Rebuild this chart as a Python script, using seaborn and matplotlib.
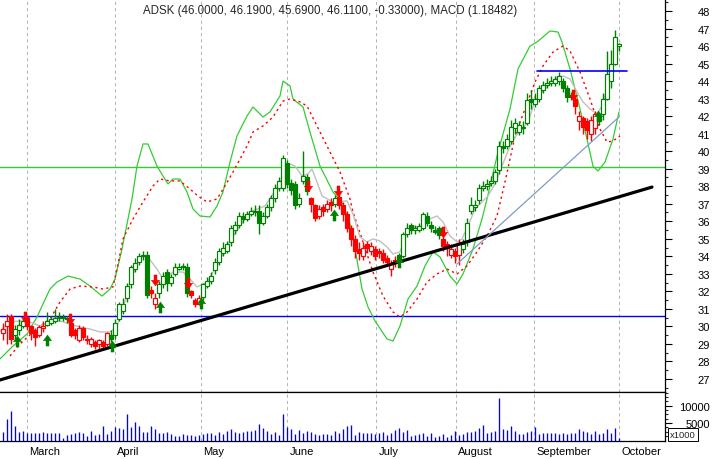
import numpy as np
import matplotlib
matplotlib.use("Agg")
import matplotlib.pyplot as plt
import matplotlib.transforms as mtransforms
from matplotlib.path import Path
import seaborn as sns

# ---- daily candles (trading day index 0..154) ----
opens = [29.6, 30.0, 30.6, 29.5, 29.8, 30.0, 30.5, 30.0, 29.8, 29.5,
         29.9, 30.1, 30.2, 30.3, 30.5, 30.55, 30.45, 30.2, 29.8, 29.2,
         29.9, 29.3, 29.0, 29.1, 29.0, 29.1, 29.0, 29.5, 29.5, 30.4,
         30.9, 31.6, 32.4, 33.3, 33.7, 34.0, 34.1, 32.1, 31.3, 31.9,
         32.4, 33.1, 32.5, 33.0, 33.3, 33.4, 33.4, 32.0, 31.5, 31.3,
         31.7, 32.3, 32.6, 33.2, 33.7, 34.2, 34.3, 34.8, 35.5, 35.8,
         36.3, 36.1, 36.4, 36.6, 36.6, 35.9, 36.3, 36.8, 37.3, 37.9,
         37.9, 39.3, 38.2, 38.1, 37.0, 38.3, 38.5, 37.3, 36.9, 36.3,
         36.8, 36.7, 37.1, 37.0, 37.4, 36.9, 36.4, 35.6, 35.0, 34.4,
         34.0, 34.7, 34.3, 34.4, 34.3, 34.2, 33.9, 33.3, 33.8, 34.1,
         34.0, 35.3, 35.8, 35.5, 35.5, 35.6, 36.3, 35.8, 35.5, 35.6,
         35.0, 34.7, 34.1, 34.3, 34.1, 34.4, 34.8, 36.6, 36.8, 37.2,
         37.9, 38.0, 38.2, 38.3, 38.9, 40.3, 40.3, 40.6, 41.3, 41.1,
         41.3, 41.6, 43.0, 42.7, 43.0, 43.5, 43.8, 43.9, 43.9, 44.0,
         44.0, 43.6, 43.2, 43.0, 41.7, 41.9, 41.7, 41.0, 41.3, 42.0,
         42.1, 43.0, 44.0, 45.0, 46.00]
closes = [29.85, 30.3, 29.3, 29.85, 30.1, 30.3, 30.0, 29.6, 29.4, 29.95,
          30.0, 30.3, 30.4, 30.5, 30.55, 30.5, 30.4, 29.5, 29.5, 29.9,
          29.4, 29.2, 29.3, 28.9, 29.2, 28.9, 29.6, 29.3, 30.2, 31.3,
          31.3, 32.3, 33.4, 33.6, 34.0, 34.1, 31.8, 31.9, 31.6, 32.4,
          32.9, 32.5, 32.8, 33.4, 33.4, 33.4, 31.9, 31.8, 31.3, 31.6,
          32.4, 32.6, 32.9, 33.7, 34.3, 34.5, 34.7, 35.6, 35.8, 36.3,
          36.1, 36.4, 36.6, 36.5, 35.9, 36.3, 36.8, 37.3, 37.9, 38.3,
          39.6, 38.1, 37.8, 36.9, 37.3, 38.6, 37.7, 37.0, 36.2, 36.7,
          36.6, 37.0, 36.9, 37.3, 36.9, 36.4, 35.6, 35.0, 34.3, 34.2,
          34.5, 34.5, 34.6, 34.0, 34.2, 33.8, 33.7, 33.6, 33.7, 33.8,
          35.3, 35.6, 35.5, 35.6, 35.7, 36.4, 35.9, 35.6, 35.4, 35.2,
          34.6, 34.5, 34.4, 34.0, 34.7, 34.7, 35.9, 36.9, 36.9, 37.9,
          38.0, 38.1, 38.3, 38.8, 40.3, 40.2, 40.7, 41.4, 41.6, 41.5,
          41.4, 42.9, 42.8, 43.0, 43.6, 43.8, 43.9, 44.0, 44.1, 44.3,
          43.6, 43.1, 43.1, 42.6, 42.0, 41.4, 41.2, 41.8, 42.1, 41.7,
          43.0, 44.4, 45.0, 46.5, 46.11]
highs = [30.2, 30.7, 30.7, 30.1, 30.4, 30.5, 30.6, 30.1, 29.9, 30.1,
         30.3, 30.8, 30.6, 31.0, 30.8, 30.7, 30.6, 30.4, 29.9, 30.1,
         30.0, 29.5, 29.4, 29.2, 29.3, 29.2, 29.7, 29.8, 30.4, 31.4,
         31.6, 32.5, 33.5, 33.9, 34.2, 34.3, 34.3, 32.3, 31.9, 32.6,
         33.1, 33.3, 33.0, 33.6, 33.6, 33.6, 33.6, 32.1, 31.6, 31.8,
         32.5, 32.8, 33.1, 33.9, 34.5, 34.8, 34.9, 35.8, 36.0, 36.5,
         36.5, 36.6, 36.8, 36.9, 36.9, 36.5, 37.0, 37.5, 38.1, 38.5,
         39.8, 39.5, 38.4, 38.3, 37.6, 40.0, 38.7, 37.4, 37.0, 36.9,
         37.0, 37.2, 37.3, 37.5, 37.6, 37.1, 36.6, 35.8, 35.2, 34.8,
         34.8, 34.9, 34.8, 34.6, 34.5, 34.4, 34.1, 33.8, 34.0, 34.2,
         35.4, 35.9, 35.9, 35.8, 35.9, 36.5, 36.5, 36.0, 35.7, 35.7,
         35.2, 34.9, 34.7, 34.5, 35.0, 35.0, 36.2, 37.4, 37.2, 38.1,
         38.3, 38.4, 38.6, 39.0, 40.6, 40.6, 41.0, 41.8, 41.9, 41.7,
         41.7, 43.3, 43.5, 43.3, 43.8, 44.0, 44.2, 44.3, 44.3, 44.5,
         44.2, 43.8, 43.4, 43.2, 42.3, 42.0, 41.9, 42.0, 42.3, 42.2,
         43.3, 45.7, 45.8, 46.9, 46.19]
lows = [29.2, 29.0, 29.0, 29.3, 29.5, 29.9, 29.8, 29.2, 28.9, 29.4,
        29.7, 30.0, 30.1, 30.2, 30.3, 30.3, 30.2, 29.4, 29.3, 29.1,
        29.2, 29.0, 28.8, 28.7, 28.6, 28.7, 28.9, 29.1, 29.3, 30.3,
        30.7, 31.4, 32.2, 33.1, 33.5, 33.8, 31.6, 31.6, 31.0, 31.6,
        32.2, 32.0, 32.3, 32.9, 33.2, 33.2, 31.7, 31.6, 31.1, 31.2,
        31.5, 32.2, 32.4, 33.0, 33.5, 34.0, 34.2, 34.6, 35.3, 35.6,
        35.9, 36.0, 36.3, 36.3, 35.3, 35.8, 36.2, 36.6, 37.1, 37.7,
        37.7, 37.9, 37.5, 36.7, 36.8, 38.1, 37.5, 36.5, 36.0, 36.1,
        36.3, 36.5, 36.6, 36.8, 36.7, 36.0, 35.4, 34.6, 33.9, 33.8,
        33.8, 34.2, 34.1, 33.8, 33.9, 33.6, 33.5, 32.9, 33.4, 33.6,
        33.9, 35.1, 35.3, 35.3, 35.4, 35.5, 35.7, 35.4, 35.3, 35.0,
        34.3, 34.0, 33.9, 33.6, 33.5, 34.2, 34.6, 36.4, 36.6, 37.0,
        37.7, 37.8, 38.0, 38.1, 38.7, 39.9, 40.1, 40.4, 41.0, 40.9,
        41.0, 41.5, 42.4, 42.5, 42.8, 43.3, 43.6, 43.7, 43.7, 43.8,
        43.4, 42.8, 42.9, 42.1, 41.2, 41.0, 40.7, 40.6, 41.0, 41.5,
        41.8, 42.9, 43.6, 44.9, 45.69]
# trend state of each candle: g = long, r = short
trend = ("rrrgggrrrr" "rggggggrrr" "rrrrrrrggg" "gggggggrrg" "gggggggrrr"
         "gggggggggg" "gggggggggg" "gggggggrrr" "rrrgrrrrrr" "rrrrrrrrrg"
         "gggggggggg" "rrrrrggggg" "gggggggggg" "gggggggggg" "gggrrrrrrg"
         "ggggg")
# volume in thousands of shares
volume_k = [2.5, 6.2, 8.6, 4.3, 2.5, 2.7, 2.3, 2.3, 2.3, 2.1,
            2.5, 2.1, 2.1, 2.1, 2.1, 0.8, 1.5, 1.8, 2.1, 2.5,
            2.3, 1.4, 2.6, 1.6, 2.0, 4.3, 1.8, 2.7, 3.8, 3.6,
            3.4, 7.5, 3.9, 5.2, 4.3, 2.5, 2.5, 4.1, 3.4, 2.3,
            2.3, 2.5, 1.8, 1.4, 1.4, 1.8, 1.5, 1.5, 1.4, 1.5,
            1.8, 2.1, 2.1, 1.5, 2.5, 1.8, 2.7, 3.4, 2.5, 2.3,
            2.5, 2.7, 2.7, 3.0, 4.8, 3.6, 2.7, 1.8, 2.5, 1.5,
            7.5, 3.9, 3.4, 1.8, 3.1, 2.3, 2.7, 2.5, 1.8, 1.5,
            1.8, 1.8, 1.5, 2.7, 2.3, 3.2, 4.1, 4.5, 1.6, 2.5,
            2.3, 2.1, 2.1, 1.8, 2.3, 2.5, 1.5, 2.3, 3.1, 3.5,
            2.5, 3.1, 1.2, 1.5, 2.0, 2.1, 1.4, 2.1, 1.1, 1.4,
            2.0, 1.1, 1.5, 2.7, 1.5, 1.8, 2.5, 2.5, 2.7, 3.5,
            4.5, 2.3, 2.5, 2.7, 12.3, 3.2, 3.0, 4.1, 2.7, 1.8,
            1.8, 2.5, 2.7, 3.9, 1.8, 2.3, 2.1, 2.1, 2.1, 2.0,
            2.1, 1.8, 2.1, 2.3, 3.2, 2.7, 2.5, 2.0, 2.8, 2.0,
            2.1, 3.3, 2.3, 3.6, 0.6]

# ---- indicator lines (day, price) ----
ma_day = [-0.75, 1.75, 4.25, 6.75, 9.25, 11.75, 14.25, 16.75, 19.25, 21.75, 24.25, 26.75,
          28.5, 30, 31.75, 34.25, 36, 38.5, 40, 42.5, 45, 46.75, 48.5, 51, 53.5, 56,
          59.25, 61.75, 65.5, 67.5, 69.75, 71.75, 73, 74.75, 76.25, 77.25, 78.5, 79.75,
          82.5, 86, 87.5, 89.25, 91, 92.5, 94.25, 96, 97.5, 99.25, 101, 102.5, 104.25,
          106.75, 108.5, 110, 111.75, 113.5, 114.75, 116.25, 118, 119.75, 121.25, 123,
          124.75, 126.25, 128, 129.75, 131.25, 133, 135, 136.75, 138.5, 140, 141.75,
          143.5, 145, 146.75, 148.5, 149.75, 151, 152.5, 153.75]
ma_price = [29.74, 30.25, 30.31, 30.25, 30.02, 30.25, 30.31, 30.13, 29.96, 29.85, 29.68, 29.68,
            30.02, 31.0, 32.53, 33.96, 34.02, 33.27, 32.70, 33.10, 33.10, 32.70, 32.25, 32.53,
            33.45, 34.59, 35.73, 36.53, 36.87, 37.56, 38.41, 39.27, 39.15, 38.58, 38.70, 38.98,
            38.24, 37.44, 37.10, 37.16, 36.41, 35.10, 34.82, 34.99, 34.87, 34.53, 34.13, 34.25,
            35.44, 35.67, 35.67, 36.13, 36.30, 35.96, 35.16, 34.82, 34.99, 35.73, 36.70, 37.10,
            37.44, 38.13, 39.15, 40.01, 40.81, 41.26, 41.66, 42.86, 43.43, 43.83, 44.23, 44.29,
            44.12, 43.38, 42.81, 42.41, 42.12, 42.58, 43.55, 44.86, 45.83]

sig_day = [1.75, 4.25, 7.5, 10, 11.75, 14.25, 16.75, 19.25, 22.5, 25, 27.5, 28.75, 30, 32.5,
           35, 37.5, 39.25, 41.75, 44.25, 46.75, 48.75, 51, 53.5, 55.5, 57.5, 61, 62.5, 65,
           67.5, 70, 71.75, 74.25, 76, 78.5, 81.75, 84.25, 86.75, 87.5, 90, 92.5, 95, 97.5,
           99.25, 101, 103.5, 106, 108.5, 111, 113.5, 116, 118.5, 121, 123.5, 125.5, 128,
           130.5, 133, 135, 137.5, 140, 141.75, 144.25, 146.75, 149.25, 151, 152.5, 154.25]
sig_price = [28.31, 28.99, 29.68, 30.13, 30.42, 31.39, 32.13, 32.30, 32.25, 32.13, 32.25, 33.56,
             34.99, 36.13, 37.10, 38.01, 38.41, 38.30, 38.30, 37.84, 37.44, 37.10, 37.27, 38.01,
             38.81, 40.29, 41.09, 41.44, 41.95, 42.86, 42.98, 42.81, 42.58, 41.44, 39.95, 38.81,
             37.27, 36.53, 34.82, 33.10, 31.73, 30.82, 30.53, 30.82, 31.56, 32.53, 32.99, 33.27,
             32.99, 33.45, 34.25, 35.16, 36.30, 38.24, 40.87, 42.41, 43.95, 44.86, 45.66, 46.00,
             45.72, 44.52, 42.98, 41.26, 40.52, 40.58, 40.87]

band_day = [-0.75, 2.5, 6, 8.5, 10, 11.75, 13.5, 16.25, 19.25, 21.75, 24.75, 26.75, 28, 29.75,
            32.25, 33.5, 35, 36.25, 38.5, 40, 41.25, 42.5, 44.25, 46, 47.5, 49.25, 51.75, 53.5,
            55, 56.75, 58.5, 61, 62.5, 65, 66.75, 69.25, 70, 71.75, 72.5, 75, 76.75, 79.25,
            82.5, 85, 86.75, 88.25, 89.75, 91.25, 93, 96, 97.5, 99.25, 101.25, 103.5, 105.5,
            107.5, 109.25, 111.75, 113.5, 115, 117.5, 119.75, 121, 123.75, 126.75, 128.75,
            131.75, 133.5, 136.75, 138.75, 139.75, 141.75, 144.25, 146, 147.5, 148.75, 150.5,
            152.5, 154]
band_price = [28.14, 28.88, 29.56, 30.53, 31.28, 32.13, 32.53, 32.87, 32.70, 32.30, 31.73, 32.13,
              32.70, 34.42, 37.27, 39.15, 40.41, 40.41, 39.15, 38.58, 38.13, 38.41, 38.41, 37.67,
              36.70, 36.30, 36.24, 36.87, 37.67, 39.38, 40.87, 42.01, 42.52, 41.95, 42.24, 43.15,
              44.00, 43.72, 42.98, 42.52, 41.09, 39.15, 37.67, 36.98, 35.84, 34.13, 32.13, 31.11,
              30.31, 29.28, 29.16, 30.02, 31.56, 32.30, 33.45, 34.25, 33.96, 32.87, 32.42, 32.99,
              34.42, 36.13, 37.27, 39.95, 42.41, 44.69, 46.00, 46.23, 46.86, 46.80, 46.23, 44.69,
              42.41, 40.69, 39.15, 38.87, 39.38, 40.69, 42.24]

# ---- drawn studies ----
trend_day = [-0.75, 162.25]
trend_price = [26.94, 37.95]
fan_day = [113.5, 154]
fan_price = [33.56, 41.95]
resist_day = [133.5, 156]
resist_price = [44.56, 44.56]
support_level = 30.57
green_level = 39.08

sell_day = [5.5, 16.75, 38, 46.25, 76.25, 83.75, 110, 142.5]
sell_price = [30.54, 30.42, 32.65, 32.47, 38.0, 37.73, 35.41, 43.2]
buy_day = [3.6, 11, 27.25, 39.25, 49.5, 82.75, 99.1, 148.75]
buy_price = [29.16, 29.22, 28.88, 31.1, 31.36, 36.36, 33.7, 41.98]

month_pos = [6, 28, 49.5, 71, 93.25, 113.25, 132.75, 154]
month_names = ["March", "April", "May", "June", "July", "August", "September", "October"]
price_ticks = list(range(27, 49))
title = "ADSK (46.0000, 46.1900, 45.6900, 46.1100, -0.33000), MACD (1.18482)"

# ---------------------------------------------------------------
sns.set_style("white")
plt.rcParams["font.family"] = ["Liberation Sans", "DejaVu Sans"]

GREEN = "#008000"
RED = "#ff0000"
LINE_GREEN = "#33cc33"

fig = plt.figure(figsize=(7.14, 4.6), dpi=100)
ax = fig.add_axes([0, 1 - 393 / 460, 665 / 714, 393 / 460])
axv = fig.add_axes([0, 18.5 / 460, 665 / 714, 48.5 / 460])

days = np.arange(len(closes))
for a in (ax, axv):
    a.set_xlim(-0.75, 165.5)
    for m in month_pos:
        a.axvline(m, color="#b4b4b4", lw=0.75, linestyle=(0, (3, 3)), zorder=0)
ax.set_ylim(26.253, 48.685)

# horizontal levels
ax.axhline(green_level, color=LINE_GREEN, lw=1.0, zorder=1)
ax.axhline(support_level, color="#0000ff", lw=1.0, zorder=1)

# indicator lines
sns.lineplot(x=band_day, y=band_price, ax=ax, color=LINE_GREEN, linewidth=0.9,
             sort=False, estimator=None, legend=False, zorder=2)
sns.lineplot(x=sig_day, y=sig_price, ax=ax, color=RED, linewidth=1.0,
             linestyle=(0, (1.6, 2.4)), sort=False, estimator=None, legend=False, zorder=2)
sns.lineplot(x=ma_day, y=ma_price, ax=ax, color="#c0c0c0", linewidth=1.0,
             sort=False, estimator=None, legend=False, zorder=2)

# candles
o = np.array(opens); c = np.array(closes); h = np.array(highs); l = np.array(lows)
edge = [GREEN if t == "g" else RED for t in trend]
face = ["white" if cc > oo else ec for cc, oo, ec in zip(c, o, edge)]
ax.vlines(days, l, h, colors=edge, lw=1.0, zorder=3)
bottoms = np.minimum(o, c)
heights = np.maximum(np.abs(c - o), 0.04)
ax.bar(days, heights, bottom=bottoms, width=0.8, color=face, edgecolor=edge,
       linewidth=0.85, zorder=4)

# trend lines
sns.lineplot(x=trend_day, y=trend_price, ax=ax, color="black", linewidth=2.3,
             sort=False, estimator=None, legend=False, zorder=5)
sns.lineplot(x=fan_day, y=fan_price, ax=ax, color="#7f9cc8", linewidth=0.9,
             sort=False, estimator=None, legend=False, zorder=5)
sns.lineplot(x=resist_day, y=resist_price, ax=ax, color="#0000ff", linewidth=1.2,
             sort=False, estimator=None, legend=False, zorder=5)

# signal arrows
down_verts = [(-0.27, 1), (0.27, 1), (0.27, 0.05), (0.75, 0.05), (0, -1),
              (-0.75, 0.05), (-0.27, 0.05), (-0.27, 1)]
up_verts = [(x, -y) for x, y in down_verts]
down_arrow = Path(down_verts, closed=True)
up_arrow = Path(up_verts, closed=True)
ax.plot(sell_day, sell_price, ls="none", marker=down_arrow, ms=8, mfc=RED, mec=RED,
        mew=0.3, zorder=6)
ax.plot(buy_day, buy_price, ls="none", marker=up_arrow, ms=8, mfc=GREEN, mec=GREEN,
        mew=0.3, zorder=6)

# volume
axv.vlines(days, 0, np.array(volume_k) * 1000, colors="#0000ff", lw=0.95, zorder=2)
axv.set_ylim(0, 13950)

# axes styling
for a in (ax, axv):
    a.yaxis.tick_right()
    a.set_facecolor("white")
    for s in a.spines.values():
        s.set_color("black")
        s.set_linewidth(0.9)
    a.spines["left"].set_visible(False)
ax.spines["top"].set_visible(False)
ax.set_xticks([])
ax.set_xlabel("")
ax.set_ylabel("")
axv.set_ylabel("")

ax.set_yticks(price_ticks)
ax.set_yticks(np.arange(26.5, 49, 1.0), minor=True)
ax.tick_params(axis="y", which="major", length=5, width=0.8, direction="out",
               labelsize=8, pad=27.4, colors="black")
ax.tick_params(axis="y", which="minor", length=2.5, width=0.8, direction="out")
for t in ax.yaxis.get_major_ticks():
    t.label2.set_horizontalalignment("right")

axv.set_yticks([5000, 10000])
axv.set_yticklabels(["5000", "10000"])
axv.set_yticks(np.arange(1250, 13950, 1250), minor=True)
axv.tick_params(axis="y", which="major", length=5, width=0.8, direction="out",
                labelsize=8, pad=27.4, colors="black")
axv.tick_params(axis="y", which="minor", length=2.5, width=0.8, direction="out")
for t in axv.yaxis.get_major_ticks():
    t.label2.set_horizontalalignment("right")

axv.set_xticks(month_pos)
axv.tick_params(axis="x", which="major", length=13.7, width=0.8, direction="out",
                labelbottom=False)
trans = mtransforms.blended_transform_factory(axv.transData, axv.transAxes)
for m, name in zip(month_pos, month_names):
    axv.text(m + 0.6, -0.215, name, transform=trans, ha="left", va="center",
             fontsize=8, color="black")

fig.text(143 / 714, 1 - 11 / 460, title, ha="left", va="center", fontsize=8.3)
fig.text(670 / 714, 1 - 435.5 / 460, "x1000", ha="left", va="center", fontsize=6.8,
         bbox=dict(boxstyle="square,pad=0.2", fc="white", ec="black", lw=0.7))

fig.savefig("out.png", dpi=100, facecolor="white")
